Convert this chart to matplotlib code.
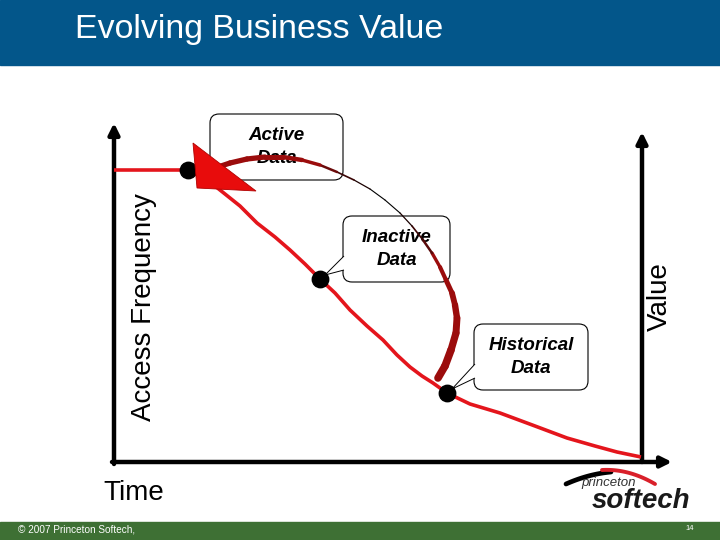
import numpy as np
import matplotlib
matplotlib.use('Agg')
from matplotlib import pyplot as plt
from matplotlib.patches import Rectangle, FancyBboxPatch, Polygon
from matplotlib.collections import LineCollection

plt.rcParams['font.family'] = ['Liberation Sans', 'DejaVu Sans']

# diagram is laid out in slide pixels (720 x 540, y pointing down)
# access-frequency curve over time
curve_x = [114, 150, 175, 188, 205, 220, 240, 257, 275, 290, 305, 320,
           335, 350, 367, 383, 397, 410, 422, 433, 447, 470, 500, 535,
           567, 595, 617, 641]
curve_y = [170, 170, 170, 170, 178, 190, 206, 223, 237, 250, 264, 279,
           293, 310, 326, 340, 355, 367, 376, 383, 393, 404, 413, 426,
           438, 446, 452, 457]

# the three labelled stages (points on the curve)
stage_names = ['Active\nData', 'Inactive\nData', 'Historical\nData']
stage_x = [188, 320, 447]
stage_y = [170, 279, 393]
box_x0 = [210, 343, 474]
box_y0 = [114, 216, 324]
box_w = [133, 107, 114]
box_h = [66, 66, 66]

# value arc that sweeps back from historical to active data
arc_x = [438, 445, 451, 456, 457, 455, 452, 446, 440, 432, 423, 412,
         400, 385, 370, 354, 337, 320, 302, 283, 265, 247, 230, 215]
arc_y = [378, 366, 350, 333, 318, 305, 293, 280, 267, 253, 240, 226,
         213, 200, 189, 180, 172, 165, 160, 157, 157, 159, 163, 168]
arc_w = [5.5, 5.5, 5.2, 5.0, 4.6, 4.2, 3.6, 3.0, 2.4, 1.8, 1.2, 0.9,
         0.8, 0.8, 0.9, 1.2, 1.8, 2.5, 3.2, 3.6, 3.8, 3.8, 3.8]
arc_c = ['#9b0c0c'] * 9 + ['#5a0a0a', '#3a0505', '#1a0000', '#000000',
         '#000000', '#1a0000', '#3a0505', '#6a0a0a'] + ['#9b0c0c'] * 7
arrow_head = [(193, 143), (197, 188), (256, 191)]

header_blue = '#03568a'
footer_green = '#3e7034'
curve_red = '#e4151c'

fig = plt.figure(figsize=(7.2, 5.4), dpi=100)
ax = fig.add_axes([0, 0, 1, 1])
ax.set_xlim(0, 720)
ax.set_ylim(540, 0)
ax.axis('off')

# header and footer bands
ax.add_patch(Rectangle((0, 0), 720, 65, color=header_blue, zorder=1))
ax.text(75, 38, 'Evolving Business Value', color='white', fontsize=24.4,
        va='baseline', ha='left')
ax.add_patch(Rectangle((0, 522), 720, 18, color=footer_green, zorder=1))
ax.text(18, 530, '\u00a9 2007 Princeton Softech,', color='white', fontsize=7.2,
        va='center', ha='left')
ax.text(690, 529, '14', color='white', fontsize=5.5, va='center', ha='center')

# axes
ap = dict(arrowstyle='-|>', lw=3.2, color='black', mutation_scale=16,
          shrinkA=0, shrinkB=0)
ax.annotate('', xy=(114, 123), xytext=(114, 464), arrowprops=ap, zorder=3)
ax.annotate('', xy=(672, 462), xytext=(112, 462), arrowprops=ap, zorder=3)
ax.annotate('', xy=(642, 132), xytext=(642, 462), arrowprops=ap, zorder=3)

ax.text(144, 307, 'Access Frequency', rotation=90, fontsize=20,
        va='center', ha='center')
ax.text(660, 297, 'Value', rotation=90, fontsize=20, va='center', ha='center')
ax.text(103, 500, 'Time', fontsize=20, va='baseline', ha='left')

# callout boxes
for i, name in enumerate(stage_names):
    ax.add_patch(FancyBboxPatch((box_x0[i], box_y0[i]), box_w[i], box_h[i],
                                boxstyle='round,pad=0,rounding_size=9',
                                fc='white', ec='black', lw=0.8, zorder=4))
    ax.text(box_x0[i] + box_w[i] / 2, box_y0[i] + box_h[i] / 2, name,
            fontsize=13.5, fontweight='bold', fontstyle='italic',
            ha='center', va='center', linespacing=1.45, zorder=5)
    if i > 0:
        x0 = box_x0[i]
        yb = box_y0[i] + box_h[i]
        ptr = [(x0 + 1, yb - 26), (stage_x[i] + 5, stage_y[i] - 4),
               (x0 + 1, yb - 12)]
        ax.add_patch(Polygon(ptr, closed=False, fc='white', ec='black',
                             lw=0.7, zorder=5))

# access frequency curve
ax.plot(curve_x, curve_y, color=curve_red, lw=2.6, zorder=6,
        solid_capstyle='butt')
ax.scatter(stage_x, stage_y, s=140, color='black', zorder=7)

# value arc with arrow head
pts = np.column_stack([arc_x, arc_y])
segs = np.stack([pts[:-1], pts[1:]], axis=1)
ax.add_collection(LineCollection(segs, linewidths=arc_w, colors=arc_c,
                                 capstyle='round', zorder=8))
ax.add_patch(Polygon(arrow_head, closed=True, fc='#e80c0c', ec='#b00000',
                     lw=0.6, zorder=9))

# logo
t = np.linspace(0, 1, 30)
ax.plot(566 + 45 * t, 484 - 20 * t + 8 * t ** 2, color='black', lw=3.4,
        zorder=3, solid_capstyle='round')
ax.plot(602 + 53 * t, 470 - 3 * t + 17 * t ** 2, color='#d9202a', lw=2.8,
        zorder=3, solid_capstyle='round')
ax.text(581, 486, 'princeton', fontsize=9.5, fontstyle='italic',
        color='#333333', va='baseline', ha='left')
ax.text(592, 508, 'softech', fontsize=20, fontstyle='italic',
        fontweight='bold', color='#1a1a1a', va='baseline', ha='left')

fig.savefig('out.png', dpi=100)
